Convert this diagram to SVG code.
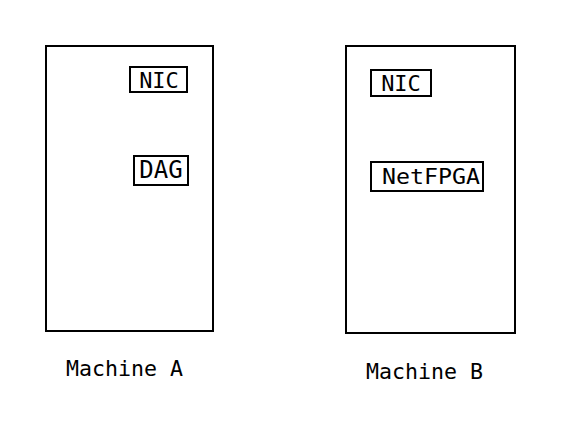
<svg xmlns="http://www.w3.org/2000/svg" width="566" height="421" viewBox="0 0 566 421">
<style>
.box{fill:#fff;stroke:#000;stroke-width:2}
.t{font-family:"DejaVu Sans Mono",monospace;font-size:21px;fill:#000}
</style>
<rect width="566" height="421" fill="#fff"/>
<g id="machineA">
<rect class="box" x="46" y="46" width="167" height="285"/>
<text class="t" x="66" y="376" textLength="117" lengthAdjust="spacingAndGlyphs">Machine A</text>
</g>
<g id="nicA">
<rect class="box" x="130" y="67" width="57" height="25"/>
<text class="t" x="159" y="87.5" text-anchor="middle" style="font-size:22px">NIC</text>
</g>
<g id="dag">
<rect class="box" x="134" y="156" width="54" height="29"/>
<text class="t" x="161" y="178" text-anchor="middle" style="font-size:24px">DAG</text>
</g>
<g id="machineB">
<rect class="box" x="346" y="46" width="169" height="287"/>
<text class="t" x="366" y="379" textLength="117" lengthAdjust="spacingAndGlyphs">Machine B</text>
</g>
<g id="nicB">
<rect class="box" x="371" y="70" width="60" height="26"/>
<text class="t" x="401" y="91" text-anchor="middle" style="font-size:22px">NIC</text>
</g>
<g id="netfpga">
<rect class="box" x="371" y="162" width="112" height="29"/>
<text class="t" x="382" y="184" textLength="98" lengthAdjust="spacingAndGlyphs" style="font-size:22px">NetFPGA</text>
</g>
<g id="connectors"/>
</svg>
